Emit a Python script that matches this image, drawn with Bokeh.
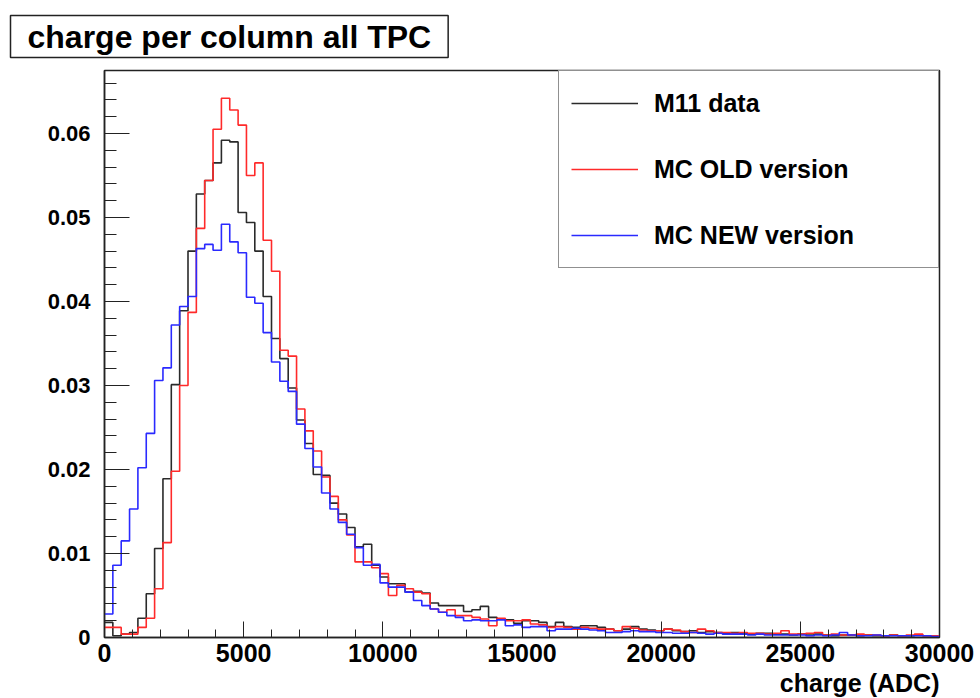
from bokeh.plotting import figure
from bokeh.models import (Range1d, FixedTicker, Legend, LegendItem, Title,
                          CustomJSTickFormatter)
from bokeh.embed import file_html
from bokeh.resources import INLINE

# ---- data (histogram, 100 bins of 300 ADC from 0 to 30000) ----
bin_edges = list(range(0, 30001, 300))

m11_data = [
    0.0018, 0.0002, 0.0004, 0.0006, 0.0023, 0.0052, 0.0106, 0.0189, 0.0301, 0.0389,
    0.0460, 0.0528, 0.0544, 0.0565, 0.0592, 0.0590, 0.0506, 0.0494, 0.0460, 0.0406,
    0.0356, 0.0332, 0.0297, 0.0259, 0.0231, 0.0194, 0.0193, 0.0160, 0.0147, 0.0131,
    0.0108, 0.0111, 0.0086, 0.0072, 0.0064, 0.0064, 0.0054, 0.0055, 0.0053, 0.0041,
    0.0038, 0.0038, 0.0038, 0.0031, 0.0033, 0.0037, 0.0024, 0.0022, 0.0021, 0.0017,
    0.0020, 0.0020, 0.0018, 0.0013, 0.0018, 0.0013, 0.0012, 0.0014, 0.0014, 0.0012,
    0.0010, 0.0008, 0.0010, 0.0013, 0.0010, 0.0009, 0.0008, 0.0010, 0.0008, 0.0007,
    0.0008, 0.0006, 0.0007, 0.0006, 0.0005, 0.0006, 0.0005, 0.0004, 0.0005, 0.0005,
    0.0004, 0.0004, 0.0003, 0.0004, 0.0003, 0.0004, 0.0003, 0.0002, 0.0003, 0.0003,
    0.0002, 0.0003, 0.0002, 0.0002, 0.0003, 0.0002, 0.0002, 0.0003, 0.0002, 0.0002,
]

mc_old = [
    0.0012, 0.0012, 0.0004, 0.0004, 0.0012, 0.0023, 0.0058, 0.0113, 0.0198, 0.0300,
    0.0387, 0.0487, 0.0544, 0.0605, 0.0642, 0.0628, 0.0610, 0.0550, 0.0565, 0.0473,
    0.0436, 0.0342, 0.0335, 0.0272, 0.0246, 0.0222, 0.0191, 0.0168, 0.0140, 0.0122,
    0.0090, 0.0090, 0.0083, 0.0076, 0.0050, 0.0062, 0.0058, 0.0054, 0.0052, 0.0034,
    0.0030, 0.0033, 0.0026, 0.0026, 0.0024, 0.0022, 0.0014, 0.0023, 0.0020, 0.0020,
    0.0021, 0.0016, 0.0015, 0.0012, 0.0013, 0.0012, 0.0010, 0.0012, 0.0011, 0.0010,
    0.0010, 0.0008, 0.0013, 0.0011, 0.0009, 0.0008, 0.0008, 0.0010, 0.0009, 0.0007,
    0.0006, 0.0010, 0.0008, 0.0006, 0.0006, 0.0005, 0.0006, 0.0005, 0.0005, 0.0004,
    0.0005, 0.0008, 0.0004, 0.0004, 0.0005, 0.0006, 0.0003, 0.0004, 0.0003, 0.0003,
    0.0004, 0.0003, 0.0003, 0.0002, 0.0003, 0.0002, 0.0003, 0.0004, 0.0002, 0.0002,
]

mc_new = [
    0.0028, 0.0086, 0.0115, 0.0153, 0.0202, 0.0243, 0.0306, 0.0321, 0.0372, 0.0394,
    0.0406, 0.0463, 0.0468, 0.0461, 0.0492, 0.0471, 0.0458, 0.0405, 0.0398, 0.0363,
    0.0328, 0.0305, 0.0293, 0.0254, 0.0225, 0.0203, 0.0172, 0.0153, 0.0137, 0.0123,
    0.0107, 0.0086, 0.0087, 0.0065, 0.0060, 0.0060, 0.0054, 0.0044, 0.0038, 0.0034,
    0.0030, 0.0026, 0.0024, 0.0020, 0.0021, 0.0020, 0.0020, 0.0021, 0.0014, 0.0015,
    0.0012, 0.0013, 0.0013, 0.0008, 0.0010, 0.0010, 0.0011, 0.0010, 0.0009, 0.0008,
    0.0006, 0.0006, 0.0007, 0.0008, 0.0007, 0.0007, 0.0006, 0.0006, 0.0005, 0.0005,
    0.0006, 0.0005, 0.0004, 0.0005, 0.0004, 0.0004, 0.0004, 0.0003, 0.0004, 0.0003,
    0.0003, 0.0003, 0.0003, 0.0003, 0.0002, 0.0003, 0.0002, 0.0003, 0.0006, 0.0003,
    0.0002, 0.0002, 0.0003, 0.0002, 0.0002, 0.0002, 0.0002, 0.0002, 0.0002, 0.0001,
]

series_names = ["M11 data", "MC OLD version", "MC NEW version"]
series_colors = ["#2a2a2a", "#ff2a2a", "#2a2aff"]

x_major = [0, 5000, 10000, 15000, 20000, 25000, 30000]
x_minor = list(range(0, 30001, 1000))
y_major = [0.0, 0.01, 0.02, 0.03, 0.04, 0.05, 0.06]
y_minor = [round(i * 0.002, 3) for i in range(34)]

FONT = "Liberation Sans"

p = figure(width=980, height=698, output_backend="svg", toolbar_location=None,
           x_range=Range1d(0, 30000), y_range=Range1d(0, 0.0675),
           min_border_left=104, min_border_right=41, min_border_top=70,
           min_border_bottom=61)
p.xgrid.visible = False
p.ygrid.visible = False
p.background_fill_color = "white"
p.border_fill_color = "white"
p.outline_line_color = "#222222"
p.outline_line_width = 1.5

renderers = []
for vals, col in zip([m11_data, mc_old, mc_new], series_colors):
    r = p.step(x=bin_edges, y=vals + [vals[-1]], mode="after",
               line_color=col, line_width=1.6)
    renderers.append(r)

# axes
xa = p.xaxis[0]
xa.ticker = FixedTicker(ticks=x_major, minor_ticks=x_minor)
xa.major_tick_in = 16
xa.major_tick_out = 0
xa.minor_tick_in = 8
xa.minor_tick_out = 0
xa.major_label_standoff = 6
xa.major_label_text_font = FONT
xa.major_label_text_font_style = "bold"
xa.major_label_text_font_size = "25px"
xa.major_label_text_color = "black"
xa.axis_line_color = "#222222"
xa.axis_line_width = 1.5
xa.major_tick_line_color = "#222222"
xa.minor_tick_line_color = "#222222"

ya = p.yaxis[0]
ya.ticker = FixedTicker(ticks=y_major, minor_ticks=y_minor)
ya.formatter = CustomJSTickFormatter(code="return tick == 0 ? '0' : tick.toFixed(2);")
ya.major_tick_in = 25
ya.major_tick_out = 0
ya.minor_tick_in = 12
ya.minor_tick_out = 0
ya.major_label_standoff = 14
ya.major_label_text_font = FONT
ya.major_label_text_font_style = "bold"
ya.major_label_text_font_size = "22px"
ya.major_label_text_color = "black"
ya.axis_line_color = "#222222"
ya.axis_line_width = 1.5
ya.major_tick_line_color = "#222222"
ya.minor_tick_line_color = "#222222"

# legend
legend = Legend(items=[LegendItem(label=n, renderers=[r]) for n, r in zip(series_names, renderers)],
                location="top_right", margin=0, padding=12,
                glyph_width=67, glyph_height=40, label_height=40, label_width=272,
                label_standoff=16, spacing=26,
                label_text_font=FONT, label_text_font_style="bold",
                label_text_font_size="25px", label_text_color="black",
                border_line_color="#222222", border_line_width=1.5,
                background_fill_color="white", background_fill_alpha=1.0)
p.add_layout(legend, "center")

# title box (top-left)
title = Title(text="charge per column all TPC", align="left", offset=-94,
              standoff=26, text_font=FONT,
              text_font_style="bold", text_font_size="32px", text_color="black",
              border_line_color="#222222", border_line_width=1.5,
              background_fill_color="white", padding=(17, 3))
p.add_layout(title, "above")

# x axis title, right aligned at the axis end
xt = Title(text="charge (ADC)", align="right", standoff=4,
           text_font=FONT, text_font_style="bold", text_font_size="25px",
           text_color="black")
p.add_layout(xt, "below")

open("out.html", "w").write(file_html(p, INLINE))
